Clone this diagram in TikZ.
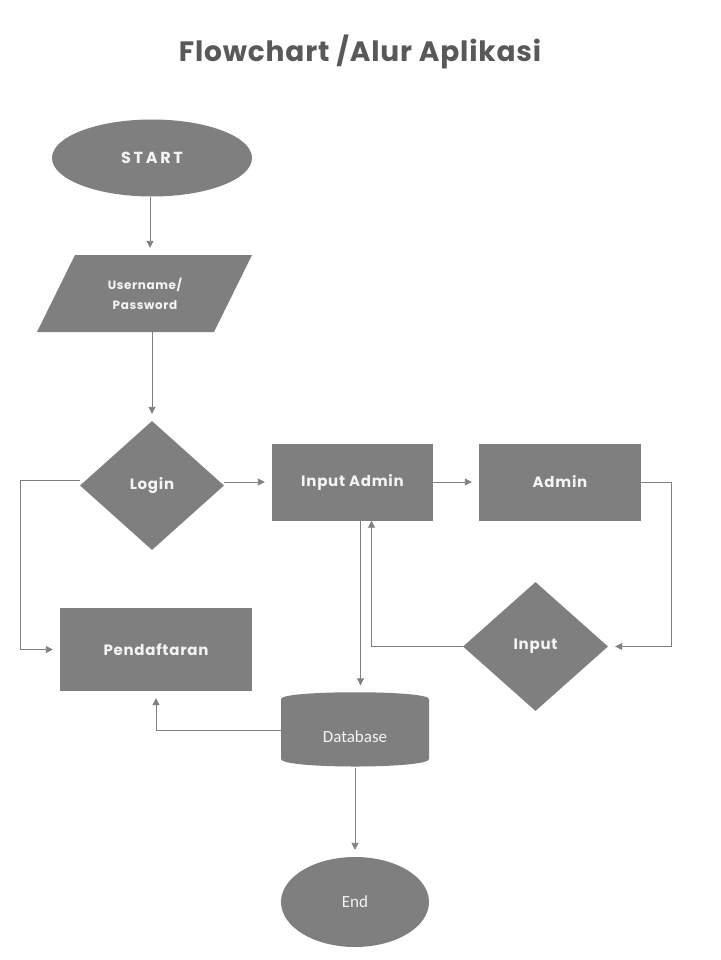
\documentclass[tikz,border=0pt]{standalone}
\usepackage{fontspec}
\setmainfont{Poppins}
\newfontfamily\calib{Carlito}
\usetikzlibrary{shapes.geometric,arrows.meta}
\definecolor{shapegray}{HTML}{7F7F7F}
\definecolor{linegray}{HTML}{808080}
\definecolor{titlegray}{HTML}{595959}
\definecolor{txtwhite}{HTML}{F4F4F4}
\tikzset{
  shp/.style={fill=shapegray, text=txtwhite, inner sep=0pt, align=center},
  boxnode/.style={shp, rectangle, minimum width=#1, minimum height=77pt},
  decision/.style={shp, diamond, minimum width=144pt, minimum height=129pt},
  conn/.style={draw=linegray, line width=0.9pt, -{Triangle[width=7pt,length=7pt]}, shorten >=7pt},
  handfont/.style={font=\bfseries\fontsize{15}{17}\selectfont\addfontfeature{LetterSpace=5}},
}
\begin{document}
\begin{tikzpicture}[x=1pt,y=-1pt]
\useasboundingbox[fill=white] (0,0) rectangle (720,960);
% title
\node[text=titlegray, font=\bfseries\fontsize{28}{32}\selectfont\addfontfeature{LetterSpace=3}] (title) at (360,52) {Flowchart /Alur Aplikasi};
% start
\node[shp, ellipse, minimum width=200pt, minimum height=77pt, font=\bfseries\fontsize{16}{18}\selectfont] (start) at (152,158) {S\,T\,A\,R\,T};
% input parallelogram
\fill[shapegray] (75,255) -- (252,255) -- (214,332) -- (37,332) -- cycle;
\node[shp, fill=none, minimum width=140pt, minimum height=77pt, font=\bfseries\fontsize{12}{20}\selectfont\addfontfeature{LetterSpace=5}] (io) at (145,293.5) {Username/\\Password};
% login
\node[decision, handfont] (login) at (152,485.5) {Login};
% boxes
\node[boxnode=161pt, handfont] (ia) at (352.5,482) {Input Admin};
\node[boxnode=162pt, handfont] (admin) at (560,482) {Admin};
\node[boxnode=192pt, minimum height=83pt, handfont] (pend) at (156,649.5) {Pendaftaran};
% input decision
\node[decision, minimum width=145pt, handfont] (inp) at (535.5,646.5) {Input};
% database cylinder
\fill[shapegray] (281,699) .. controls (281,690) and (429,690) .. (429,699)
  -- (429,759) .. controls (429,769) and (281,769) .. (281,759) -- cycle;
\node[shp, fill=none, minimum width=148pt, minimum height=75pt, font=\calib\fontsize{17}{20}\selectfont] (db) at (355,730) {\smash{\raisebox{-12pt}{Database}}};
% end
\node[shp, ellipse, minimum width=148pt, minimum height=90pt, font=\calib\fontsize{17}{20}\selectfont] (end) at (355,902) {End};
% connectors
\draw[conn] (start.south -| 150,0) -- (io.north -| 150,0);
\draw[conn] (io.south -| login.north) -- (login.north);
\draw[conn] (ia.west -| login.east) -- (ia.west);
\draw[conn] ([yshift=5pt]login.west) -- ++(-59,0) |- (pend.west);
\draw[conn] (ia.east) -- (admin.west);
\draw[conn] (admin.east) -- ++(30,0) |- (inp.east);
\draw[conn, shorten >=0pt] (inp.west) -| ([xshift=19pt]ia.south);
\draw[conn] ([xshift=8pt]ia.south) -- ([xshift=8pt]ia.south |- db.north);
\draw[conn] (db.west) -| (pend.south);
\draw[conn] (db.south) -- (end.north);
\end{tikzpicture}
\end{document}
